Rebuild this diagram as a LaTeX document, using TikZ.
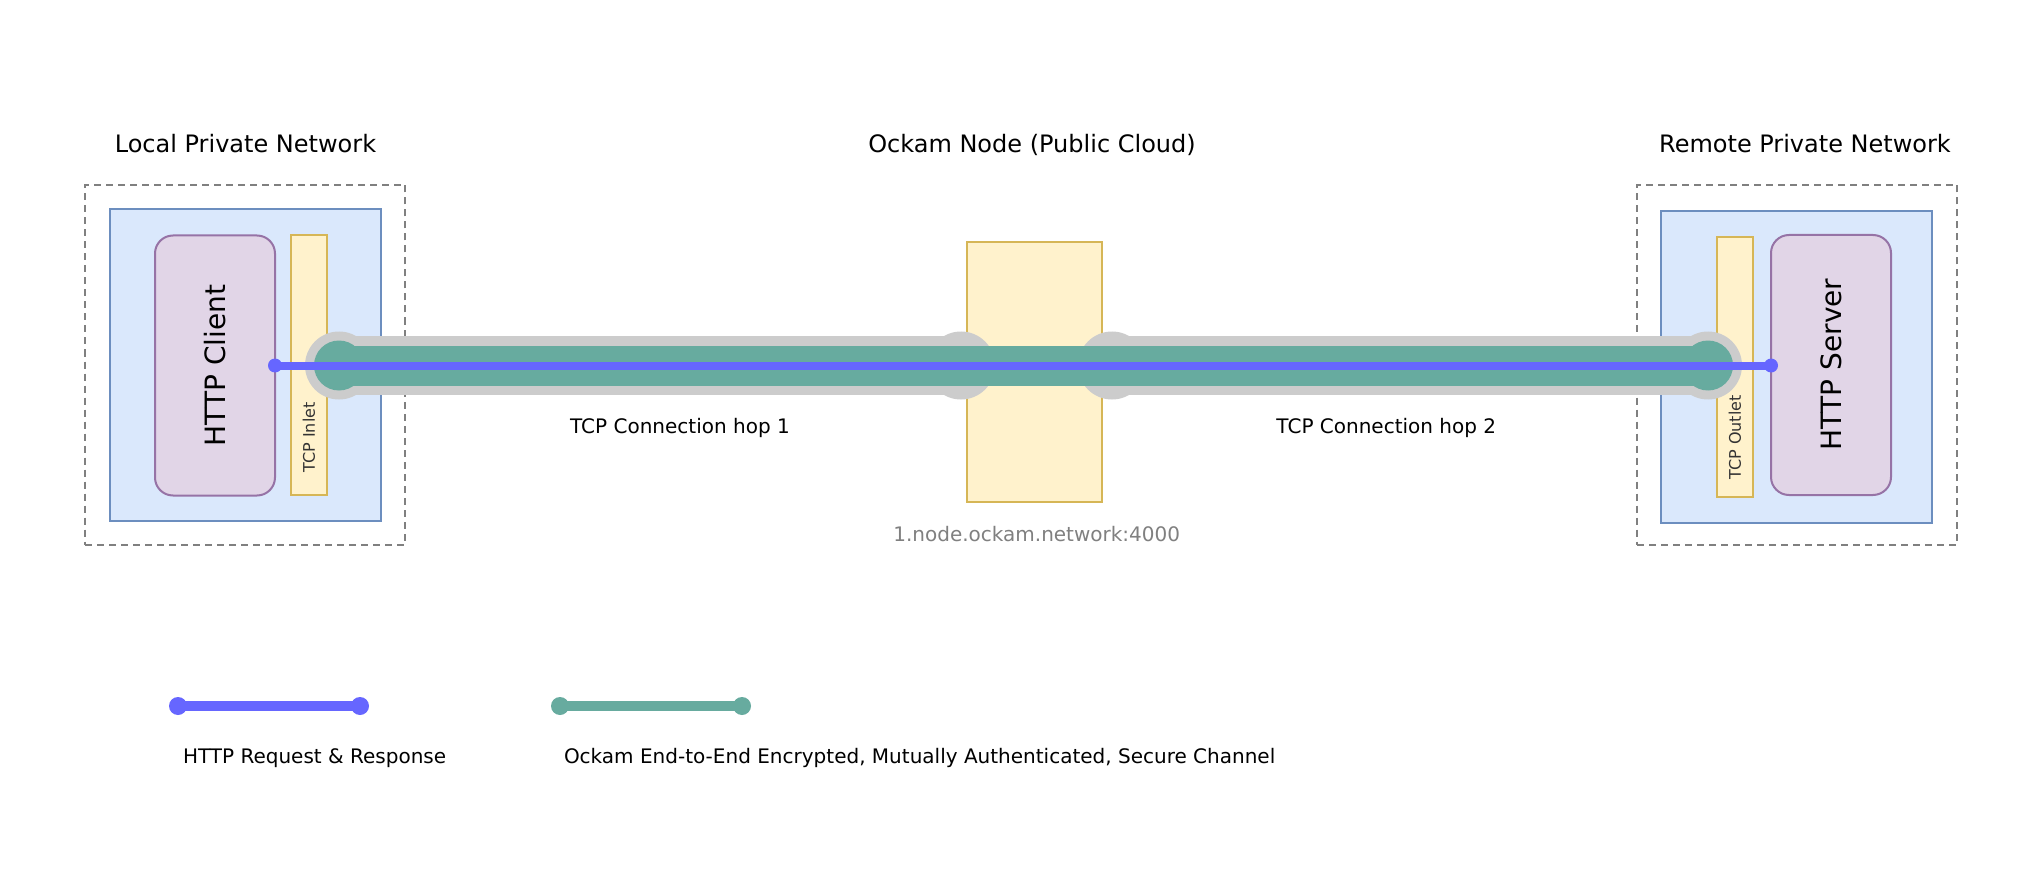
\documentclass[tikz,border=0pt]{standalone}
\usepackage{fontspec}
\setmainfont{DejaVu Sans}
\definecolor{netfill}{HTML}{DAE8FC}
\definecolor{netdraw}{HTML}{6C8EBF}
\definecolor{appfill}{HTML}{E1D5E7}
\definecolor{appdraw}{HTML}{9673A6}
\definecolor{portfill}{HTML}{FFF2CC}
\definecolor{portdraw}{HTML}{D6B656}
\definecolor{hopgrey}{HTML}{CCCCCC}
\definecolor{chgreen}{HTML}{67AB9F}
\definecolor{reqblue}{HTML}{6666FF}
\definecolor{dashgrey}{HTML}{808080}
\definecolor{addrgrey}{HTML}{808080}
\definecolor{porttext}{HTML}{333333}
\begin{document}
\begin{tikzpicture}[x=0.5pt,y=-0.5pt,
  every node/.style={inner sep=0pt, outer sep=0pt},
  zone/.style={draw=dashgrey, line width=1pt, dash pattern=on 3.5pt off 2.5pt, minimum width=160pt, minimum height=179.75pt},
  netbox/.style={draw=netdraw, fill=netfill, line width=1pt, minimum width=135.5pt, minimum height=156pt},
  appbox/.style={draw=appdraw, fill=appfill, line width=1pt, rounded corners=9pt, minimum width=60pt, minimum height=130pt},
  portbox/.style={draw=portdraw, fill=portfill, line width=1pt, minimum width=18pt, minimum height=130pt},
  nodebox/.style={draw=portdraw, fill=portfill, line width=1pt, minimum width=67.5pt, minimum height=130pt},
  title/.style={font=\fontsize{12pt}{14pt}\selectfont, anchor=base},
  apptext/.style={font=\fontsize{14pt}{16pt}\selectfont, rotate=90},
  porttxt/.style={font=\fontsize{8pt}{10pt}\selectfont, text=porttext, rotate=90},
  lbl/.style={font=\fontsize{10pt}{12pt}\selectfont, anchor=base},
  hopline/.style={draw=hopgrey, line width=29.5pt},
  chline/.style={draw=chgreen, line width=20pt},
  reqline/.style={draw=reqblue, line width=4pt},
]
\fill[white] (0,0) rectangle (2024,882);
\useasboundingbox (0,0) rectangle (2024,882);

% titles
\node[title] (tl) at (245.5,152.3) {Local Private Network};
\node[title] (tc) at (1032,152.3) {Ockam Node (Public Cloud)};
\node[title] (tr) at (1805,152.3) {Remote Private Network};

% local side
\node[zone] (lzone) at (245,364.75) {};
\node[netbox] (lnet) at (245.5,365) {};
\node[appbox] (client) at (215,365.5) {};
\node[apptext] (clientt) at (215,365.5) {HTTP Client};
\node[portbox] (inlet) at (309,365) {};
\node[porttxt] (inlett) at (309,437.5) {TCP Inlet};

% ockam node
\node[nodebox] (ockam) at (1034.5,372) {};

% remote side
\node[zone] (rzone) at (1797,364.75) {};
\node[netbox] (rnet) at (1796.85,366.85) {};
\node[portbox] (outlet) at (1735,367) {};
\node[porttxt] (outlett) at (1735,437.5) {TCP Outlet};
\node[appbox] (server) at (1831,365) {};
\node[apptext] (servert) at (1831,364.75) {HTTP Server};

% connector end points
\coordinate (c1) at (339,365.5);
\coordinate (ha) at (961,365.5);
\coordinate (hb) at (1112,365.5);
\coordinate (c2) at (1708,365.5);
\coordinate (b1) at (client.east |- 0,365.5);
\coordinate (b2) at (server.west |- 0,365.5);

% hops
\draw[hopline] (c1) -- (ha);
\fill[hopgrey] (c1) circle (17pt) (ha) circle (17pt);
\draw[hopline] (hb) -- (c2);
\fill[hopgrey] (hb) circle (17pt) (c2) circle (17pt);

% secure channel
\draw[chline] (c1) -- (c2);
\fill[chgreen] (c1) circle (12.5pt) (c2) circle (12.5pt);

% http request
\draw[reqline] (b1) -- (b2);
\fill[reqblue] (b1) circle (3.5pt) (b2) circle (3.5pt);

% labels
\node[lbl] (hop1) at (680,433.3) {TCP Connection hop 1};
\node[lbl] (hop2) at (1386.3,433.3) {TCP Connection hop 2};
\node[lbl, text=addrgrey] (addr) at (1036.7,541) {1.node.ockam.network:4000};

% legend
\coordinate (la1) at (178,706);
\coordinate (la2) at (360,706);
\coordinate (lb1) at (560,706);
\coordinate (lb2) at (742,706);
\draw[draw=reqblue, line width=5pt] (la1) -- (la2);
\fill[reqblue] (la1) circle (4.5pt) (la2) circle (4.5pt);
\draw[draw=chgreen, line width=5pt] (lb1) -- (lb2);
\fill[chgreen] (lb1) circle (4.5pt) (lb2) circle (4.5pt);
\node[lbl, anchor=base west] (lega) at (183,763) {HTTP Request \& Response};
\node[lbl, anchor=base west] (legb) at (564,763) {Ockam End-to-End Encrypted, Mutually Authenticated, Secure Channel};
\end{tikzpicture}
\end{document}
